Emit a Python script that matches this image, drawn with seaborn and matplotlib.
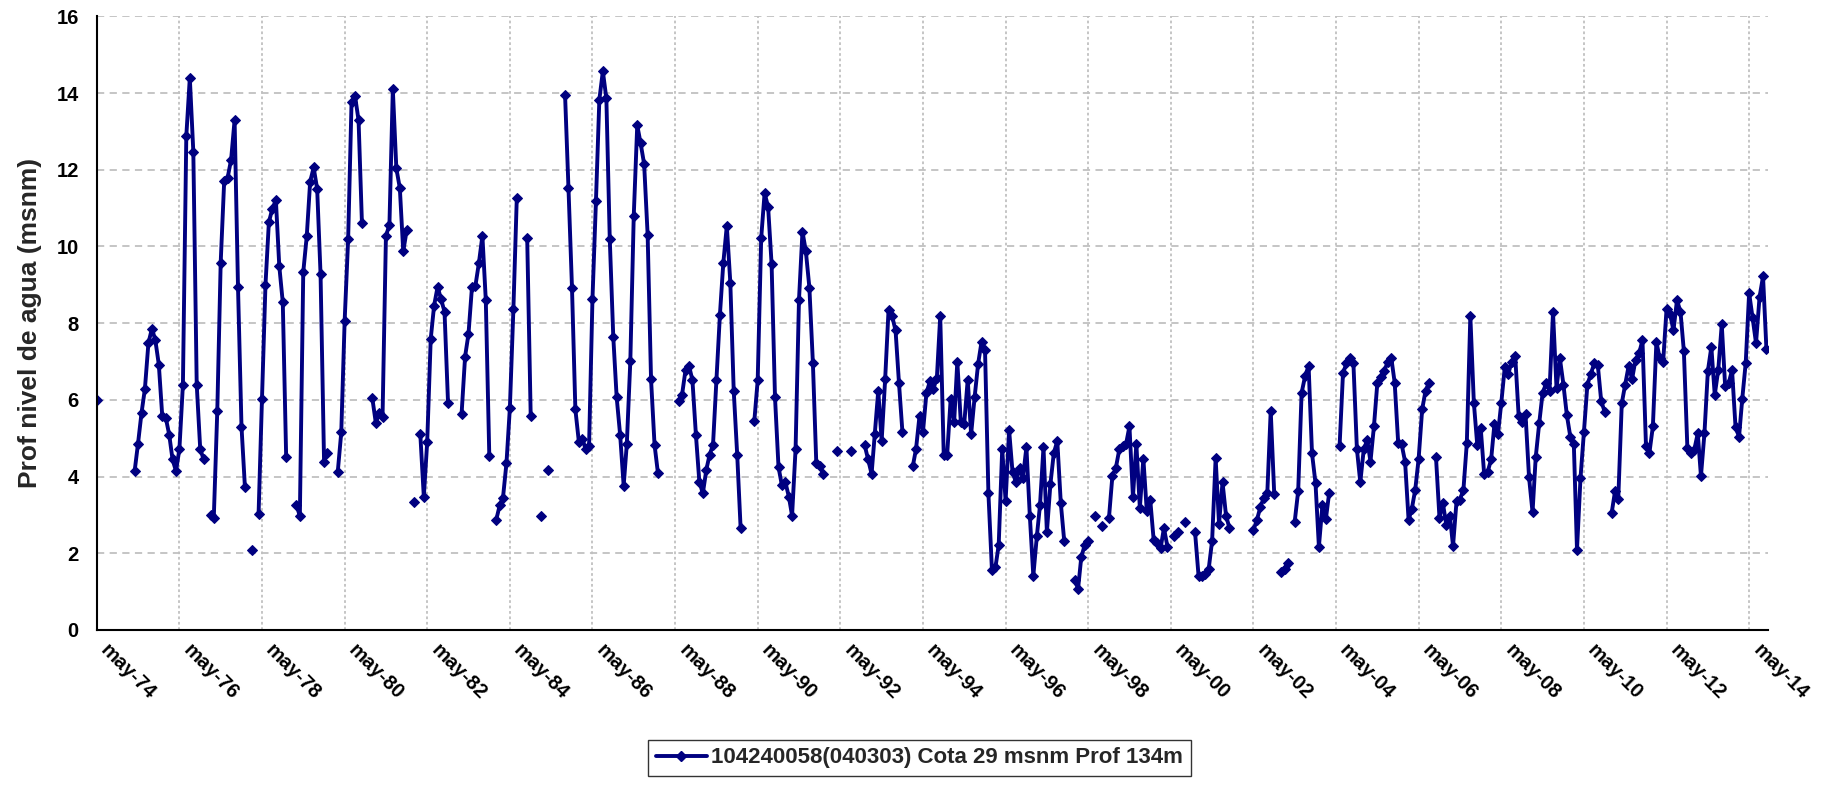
import matplotlib
matplotlib.use('Agg')
import matplotlib.pyplot as plt
from matplotlib.lines import Line2D
import numpy as np
import pandas as pd
import seaborn as sns

n = np.nan

# monthly readings starting May 1974, one line per year (May..April), NaN = no reading
start = '1974-05-01'
depth_1974_1984 = [
    6.0, n, n, n, n, n, n, n, n, n, n, 4.14,
    4.86, 5.66, 6.29, 7.48, 7.86, 7.56, 6.92, 5.59, 5.54, 5.09, 4.45, 4.14,
    4.72, 6.4, 12.88, 14.4, 12.47, 6.4, 4.72, 4.45, n, 3.0, 2.93, 5.72,
    9.58, 11.71, 11.79, 12.26, 13.3, 8.95, 5.3, 3.74, n, 2.09, n, 3.03,
    6.02, 9.0, 10.63, 10.99, 11.21, 9.49, 8.54, 4.5, n, n, 3.25, 2.98,
    9.33, 10.27, 11.69, 12.06, 11.5, 9.27, 4.39, 4.61, n, n, 4.12, 5.15,
    8.06, 10.2, 13.77, 13.92, 13.29, 10.6, n, n, 6.04, 5.39, 5.66, 5.55,
    10.27, 10.57, 14.1, 12.04, 11.52, 9.87, 10.43, n, 3.34, n, 5.1, 3.47,
    4.91, 7.59, 8.46, 8.95, 8.62, 8.3, 5.93, n, n, n, 5.64, 7.13,
    7.72, 8.95, 8.97, 9.57, 10.28, 8.6, 4.53, n, 2.87, 3.25, 3.45, 4.36,
]
depth_1984_1994 = [
    5.8, 8.37, 11.26, n, n, 10.22, 5.59, n, n, 2.98, n, 4.18,
    n, n, n, n, 13.94, 11.52, 8.93, 5.75, 4.9, 4.99, 4.72, 4.8,
    8.62, 11.19, 13.83, 14.57, 13.86, 10.2, 7.65, 6.07, 5.08, 3.76, 4.86, 7.02,
    10.79, 13.16, 12.69, 12.15, 10.3, 6.54, 4.83, 4.09, n, n, n, n,
    n, 5.97, 6.13, 6.78, 6.89, 6.51, 5.08, 3.87, 3.56, 4.18, 4.56, 4.83,
    6.51, 8.22, 9.57, 10.54, 9.06, 6.24, 4.56, 2.66, n, n, n, 5.44,
    6.51, 10.22, 11.39, 11.04, 9.54, 6.07, 4.25, 3.77, 3.85, 3.47, 2.98, 4.72,
    8.6, 10.39, 9.87, 8.93, 6.97, 4.36, 4.28, 4.07, n, n, n, 4.66,
    n, n, n, 4.66, n, n, n, 4.83, 4.45, 4.07, 5.1, 6.24,
    4.93, 6.54, 8.35, 8.19, 7.81, 6.45, 5.15, n, n, 4.28, 4.72, 5.59,
]
depth_1994_2004 = [
    5.15, 6.18, 6.48, 6.29, 6.56, 8.19, 4.56, 4.56, 6.02, 5.42, 7.0, 5.42,
    5.37, 6.53, 5.1, 6.07, 6.94, 7.51, 7.3, 3.56, 1.57, 1.63, 2.22, 4.72,
    3.36, 5.21, 4.12, 3.85, 4.23, 3.96, 4.77, 2.98, 1.41, 2.44, 3.25, 4.77,
    2.55, 3.8, 4.61, 4.93, 3.31, 2.33, n, n, 1.30, 1.08, 1.9, 2.22,
    2.33, n, 2.98, n, 2.71, n, 2.93, 4.01, 4.23, 4.72, 4.8, 4.85,
    5.31, 3.47, 4.85, 3.18, 4.47, 3.11, 3.39, 2.35, 2.28, 2.14, 2.66, 2.17,
    n, 2.44, 2.55, n, 2.82, n, n, 2.55, 1.41, 1.41, 1.45, 1.6,
    2.33, 4.48, 2.77, 3.85, 2.98, 2.66, n, n, n, n, n, n,
    2.6, 2.87, 3.2, 3.45, 3.58, 5.72, 3.55, n, 1.52, 1.6, 1.74, n,
    2.82, 3.63, 6.18, 6.62, 6.89, 4.61, 3.83, 2.17, 3.25, 2.9, 3.58, n,
]
depth_2004_2014 = [
    n, 4.8, 6.69, 6.96, 7.08, 6.97, 4.72, 3.85, 4.72, 4.95, 4.39, 5.32,
    6.45, 6.6, 6.75, 7.0, 7.1, 6.45, 4.88, 4.85, 4.39, 2.87, 3.15, 3.66,
    4.47, 5.75, 6.24, 6.45, n, 4.52, 2.93, 3.31, 2.74, 2.98, 2.19, 3.36,
    3.4, 3.66, 4.88, 8.19, 5.93, 4.83, 5.26, 4.07, 4.12, 4.45, 5.37, 5.1,
    5.93, 6.87, 6.67, 7.0, 7.14, 5.59, 5.42, 5.62, 3.98, 3.07, 4.5, 5.39,
    6.18, 6.43, 6.24, 8.28, 6.3, 7.08, 6.4, 5.61, 5.04, 4.85, 2.09, 3.96,
    5.15, 6.4, 6.67, 6.96, 6.91, 5.97, 5.69, n, 3.04, 3.63, 3.42, 5.91,
    6.4, 6.89, 6.54, 7.05, 7.21, 7.56, 4.8, 4.61, 5.31, 7.51, 7.1, 7.0,
    8.38, 8.24, 7.81, 8.6, 8.3, 7.27, 4.75, 4.61, 4.7, 5.13, 4.01, 5.13,
    6.75, 7.38, 6.13, 6.78, 7.97, 6.35, 6.43, 6.78, 5.28, 5.04, 6.02, 6.97,
    8.79, 8.13, 7.48, 8.68, 9.22, 7.32,
]
tick_years = list(range(1974, 2015, 2))
serie_label = '104240058(040303) Cota 29 msnm Prof 134m'

depth = depth_1974_1984 + depth_1984_1994 + depth_1994_2004 + depth_2004_2014
df = pd.DataFrame({'fecha': pd.date_range(start, periods=len(depth), freq='MS'),
                   'prof': depth})
# break the line where a reading is missing
df['tramo'] = df['prof'].isna().cumsum()
df = df.dropna()

sns.set_theme(style='white')
plt.rcParams['font.family'] = ['Liberation Sans', 'DejaVu Sans']
plt.rcParams['font.weight'] = 'bold'

navy = '#000080'
fig = plt.figure(figsize=(18.39, 7.87), dpi=100)
ax = fig.add_axes([0.0526, 0.1995, 0.9088, 0.7797])

sns.lineplot(data=df, x='fecha', y='prof', units='tramo', estimator=None,
             color=navy, linewidth=2.8, marker='D', markersize=5.5,
             markeredgecolor=navy, ax=ax, legend=False)

ax.set_ylim(0, 16)
ax.set_yticks(range(0, 17, 2))
ax.set_xlim(pd.Timestamp('1974-05-01'), pd.Timestamp('2014-10-15'))
ax.set_xticks([pd.Timestamp(f'{y}-05-01') for y in tick_years])
ax.set_xticklabels([f'may-{y % 100:02d}' for y in tick_years], rotation=-45,
                   ha='left', va='bottom', rotation_mode='anchor')

ax.yaxis.grid(True, color='#c0c0c0', linestyle=(0, (4, 3)), linewidth=1.3)
ax.xaxis.grid(True, color='#c0c0c0', linestyle=(0, (1.5, 1.5)), linewidth=1.3)
ax.set_axisbelow(True)
for s in ['top', 'right']:
    ax.spines[s].set_visible(False)
for s in ['left', 'bottom']:
    ax.spines[s].set_color('black')
    ax.spines[s].set_linewidth(1.5)

ax.tick_params(axis='both', direction='out', length=5, width=1.3,
               color='black', labelsize=14.5, labelcolor='black')
ax.tick_params(axis='x', pad=12)
ax.tick_params(axis='y', pad=8)
ax.set_xlabel('')
ax.set_ylabel('Prof nivel de agua (msnm)', fontsize=19, fontweight='bold', labelpad=10)

handle = Line2D([], [], color=navy, linewidth=2.8, marker='D', markersize=5.5)
leg = fig.legend([handle], [serie_label], loc='center', bbox_to_anchor=(0.5, 0.037),
                 frameon=True, fancybox=False, edgecolor='black', fontsize=16,
                 handlelength=2.3, borderpad=0.35, handletextpad=0.2)
leg.get_frame().set_linewidth(1.0)

fig.savefig('out.png', dpi=100)
